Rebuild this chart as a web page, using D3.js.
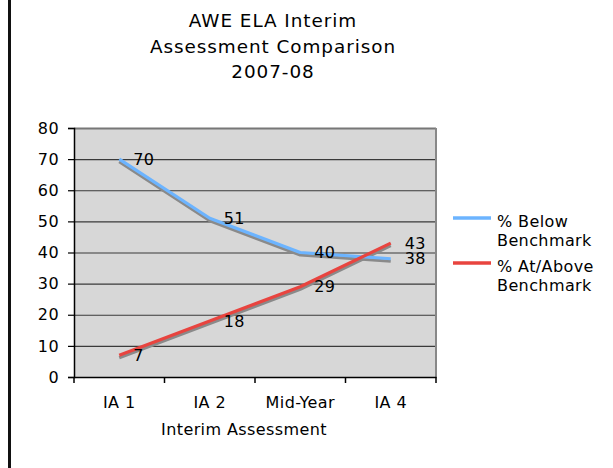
<!DOCTYPE html>
<html>
<head>
<meta charset="utf-8">
<script src="https://cdn.jsdelivr.net/npm/d3@7"></script>
<style>
html,body{margin:0;padding:0;background:#fff;}
svg{display:block;}
text{font-family:"DejaVu Sans",Verdana,sans-serif;fill:#000;}
</style>
</head>
<body>
<svg id="chart" width="613" height="468"></svg>
<script>
const categories = ["IA 1", "IA 2", "Mid-Year", "IA 4"];
const belowBenchmark = [70, 51, 40, 38];
const atAboveBenchmark = [7, 18, 29, 43];
const seriesNames = ["% Below Benchmark", "% At/Above Benchmark"];
const yTicks = [0, 10, 20, 30, 40, 50, 60, 70, 80];
const titleLines = ["AWE ELA Interim", "Assessment Comparison", "2007-08"];
const xAxisTitle = "Interim Assessment";

const series = [
  {name: seriesNames[0], values: belowBenchmark, color: "#6cb4ff", legend: ["% Below", "Benchmark"]},
  {name: seriesNames[1], values: atAboveBenchmark, color: "#e8443f", legend: ["% At/Above", "Benchmark"]}
];

const FS = "16px", LS = "0.4px";
const svg = d3.select("#chart");
const L = 74, R = 436, T = 128, B = 377;

const x = d3.scaleBand().domain(categories).range([L, R]).padding(0);
const y = d3.scaleLinear().domain([0, 80]).range([B, T]);
const cx = c => x(c) + x.bandwidth() / 2;

// left border of frame
svg.append("rect").attr("x", 8).attr("y", 0).attr("width", 3).attr("height", 468).attr("fill", "#111");

// title
svg.append("g").selectAll("text").data(titleLines).join("text")
  .attr("x", 273).attr("y", (d, i) => 27 + i * 25.5)
  .attr("text-anchor", "middle").style("font-size", "18.4px").style("letter-spacing", "0.95px").text(d => d);

// plot background
svg.append("rect").attr("x", L).attr("y", T).attr("width", R - L).attr("height", B - T).attr("fill", "#d7d7d7");

// gridlines
svg.append("g").selectAll("line").data(yTicks.filter(d => d > 0)).join("line")
  .attr("x1", L).attr("x2", R).attr("y1", d => y(d) + 0.5).attr("y2", d => y(d) + 0.5)
  .attr("stroke", d => d === 80 ? "#777" : "#3a3a3a").attr("stroke-width", d => d === 80 ? 2 : 1.2);

// right border
svg.append("line").attr("x1", R).attr("x2", R).attr("y1", T).attr("y2", B)
  .attr("stroke", "#888").attr("stroke-width", 2);

// y axis
const yAxis = d3.axisLeft(y).tickValues(yTicks).tickSize(6).tickPadding(9);
const gy = svg.append("g").attr("transform", `translate(${L},0)`).call(yAxis);
gy.select(".domain").attr("stroke", "#000").attr("stroke-width", 1.5);
gy.selectAll(".tick line").attr("stroke", "#000").attr("stroke-width", 1.2);
gy.selectAll(".tick text").style("font-size", FS).style("letter-spacing", LS).style("font-family", "DejaVu Sans").attr("fill", "#000");

// x axis
const xAxis = d3.axisBottom(x).tickSize(0).tickPadding(20);
const gx = svg.append("g").attr("transform", `translate(0,${B})`).call(xAxis);
gx.select(".domain").attr("stroke", "#000").attr("stroke-width", 1.5);
gx.selectAll(".tick text").style("font-size", FS).style("letter-spacing", LS).style("font-family", "DejaVu Sans").attr("fill", "#000");
// x ticks at band boundaries
const bounds = categories.map(c => x(c)).concat([R]);
svg.append("g").selectAll("line").data(bounds).join("line")
  .attr("x1", d => d).attr("x2", d => d).attr("y1", B).attr("y2", B + 6)
  .attr("stroke", "#000").attr("stroke-width", 1.5);

svg.append("text").attr("x", 244).attr("y", 435).attr("text-anchor", "middle")
  .style("font-size", FS).style("letter-spacing", LS).text(xAxisTitle);

// lines with shadow
const line = d3.line().x((d, i) => cx(categories[i])).y(d => y(d));
series.forEach(s => {
  svg.append("path").datum(s.values).attr("d", line)
    .attr("transform", "translate(0,2.5)")
    .attr("fill", "none").attr("stroke", "#8a8a8a").attr("stroke-width", 3.2)
    .attr("stroke-linejoin", "round");
});
series.forEach(s => {
  svg.append("path").datum(s.values).attr("d", line)
    .attr("fill", "none").attr("stroke", s.color).attr("stroke-width", 3.2)
    .attr("stroke-linejoin", "round");
});

// data labels
series.forEach(s => {
  svg.append("g").selectAll("text").data(s.values).join("text")
    .attr("x", (d, i) => cx(categories[i]) + 14)
    .attr("y", d => y(d)).attr("dy", "0.36em")
    .style("font-size", FS).style("letter-spacing", LS).text(d => d);
});

// legend
const lg = svg.append("g");
series.forEach((s, i) => {
  const yy = 218 + i * 45;
  lg.append("line").attr("x1", 453).attr("x2", 491).attr("y1", yy).attr("y2", yy)
    .attr("stroke", s.color).attr("stroke-width", 3.5);
  s.legend.forEach((t, j) => {
    lg.append("text").attr("x", 497).attr("y", yy + 9 + j * 19).style("font-size", FS).style("letter-spacing", LS).text(t);
  });
});
</script>
</body>
</html>
